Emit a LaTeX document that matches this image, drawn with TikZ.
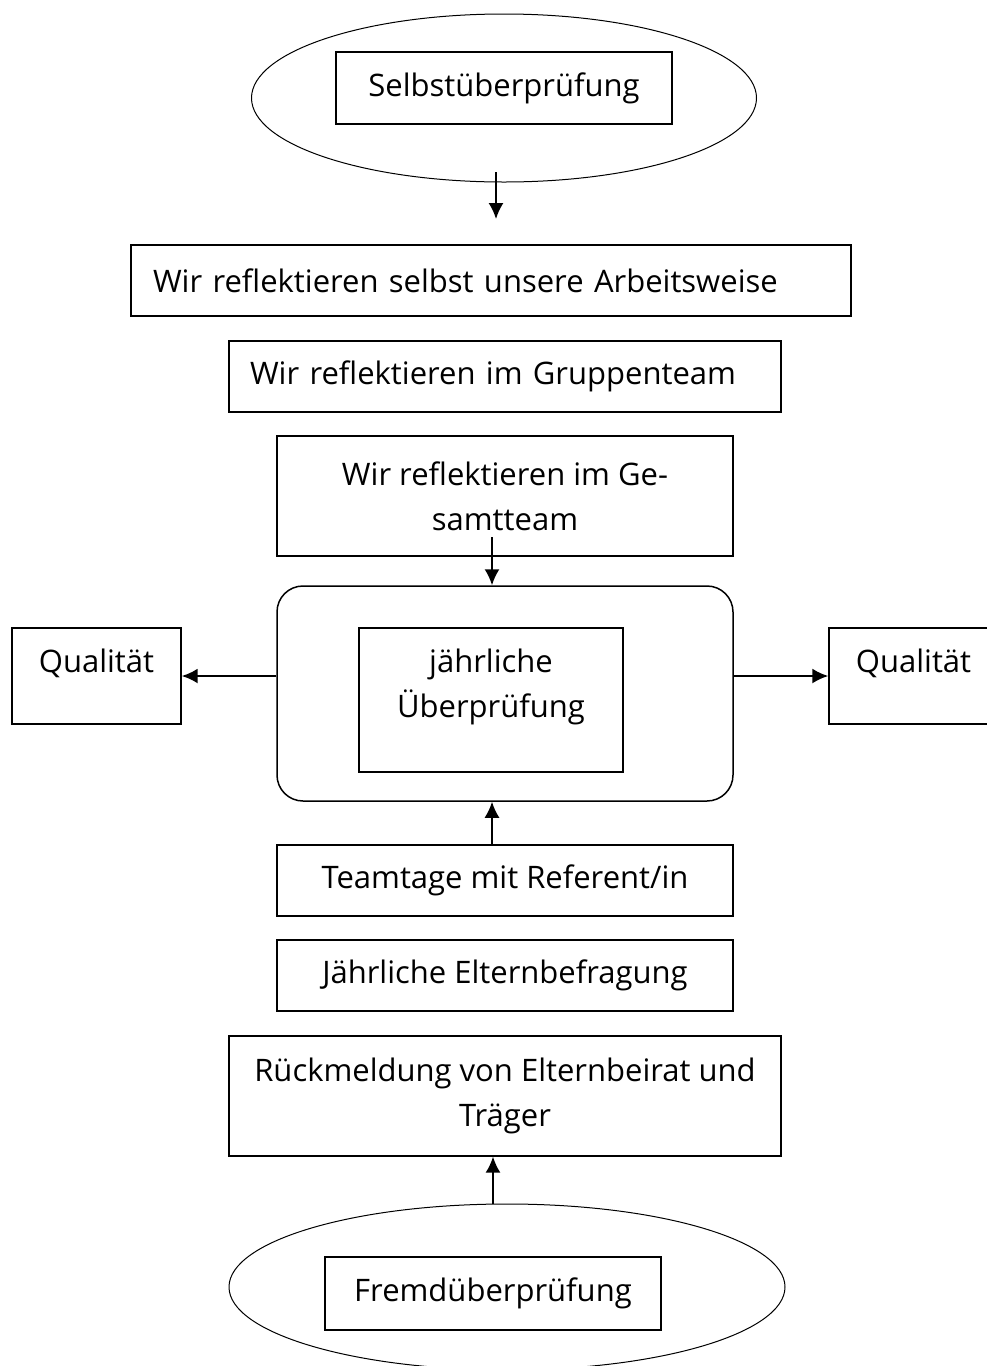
\documentclass[tikz,border=0pt]{standalone}
\usepackage{fontspec}
\setmainfont{Open Sans}
\usetikzlibrary{shapes}
\usetikzlibrary{shapes.geometric}
\usetikzlibrary{arrows.meta}

\begin{document}
\begin{tikzpicture}[auto, x=1pt, y=-1pt,
  every node/.style={font=\fontsize{31}{45}\selectfont},
  kasten/.style={draw, line width=1.3pt, inner sep=0pt},
  oval/.style={draw, ellipse, line width=1pt, inner sep=0pt},
  pfeil/.style={-{Latex[length=16pt,width=15pt]}, line width=1.8pt}]
\useasboundingbox (0,0) rectangle (986,1366);

\node [oval, minimum width=505pt, minimum height=168pt] (SELBSTOVAL) at (504,98) {};
\node [kasten, minimum width=336pt, minimum height=72pt] (SELBST) at (504,88) {Selbstüberprüfung};
\node [kasten, minimum width=720pt, minimum height=71pt, text width=676pt, inner xsep=22pt, align=left] (ARBEIT) at (491,280.5) {Wir reflektieren selbst unsere Arbeitsweise};
\node [kasten, minimum width=552pt, minimum height=71pt, text width=510pt, inner xsep=21pt, align=left] (GRUPPE) at (505,376.5) {Wir reflektieren im Gruppenteam};
\node [kasten, minimum width=456pt, minimum height=120pt, align=center] (GESAMT) at (505,496) {Wir reflektieren im Ge-\\samtteam};
\node [draw, line width=1.5pt, rounded corners=26pt, minimum width=456pt, minimum height=215pt] (PRUEF) at (505,693.5) {};
\node [kasten, minimum width=264pt, minimum height=144pt, text depth=34pt, align=center] (JAEHRL) at (491,700) {jährliche\\Überprüfung};
\node [kasten, minimum width=169pt, minimum height=96pt, text depth=30pt] (QLINKS) at (96.5,676) {Qualität};
\node [kasten, minimum width=169pt, minimum height=96pt, text depth=30pt] (QRECHTS) at (913.5,676) {Qualität};
\node [kasten, minimum width=456pt, minimum height=71pt] (TEAM) at (505,880.5) {Teamtage mit Referent/in};
\node [kasten, minimum width=456pt, minimum height=71pt] (ELTERN) at (505,975.5) {Jährliche Elternbefragung};
\node [kasten, minimum width=552pt, minimum height=120pt, align=center] (RUECK) at (505,1096) {Rückmeldung von Elternbeirat und\\Träger};
\node [oval, minimum width=556pt, minimum height=166pt] (FREMDOVAL) at (507,1287) {};
\node [kasten, minimum width=336pt, minimum height=73pt] (FREMD) at (493,1293.5) {Fremdüberprüfung};

\coordinate (SELBSTAUS) at (496,172);
\coordinate (SELBSTZIEL) at (496,219);
\coordinate (GESAMTAUS) at (492,537);
\coordinate (FREMDAUS) at (493,1204);
\draw [pfeil] (SELBSTAUS) to (SELBSTZIEL);
\draw [pfeil] (GESAMTAUS) to (GESAMTAUS |- PRUEF.north);
\draw [pfeil, line width=2.4pt] (PRUEF.west |- QLINKS) to (QLINKS.east);
\draw [pfeil, line width=2.4pt] (PRUEF.east |- QRECHTS) to (QRECHTS.west);
\draw [pfeil] (TEAM.north -| GESAMTAUS) to (PRUEF.south -| GESAMTAUS);
\draw [pfeil] (FREMDAUS) to (FREMDAUS |- RUECK.south);
\end{tikzpicture}
\end{document}
